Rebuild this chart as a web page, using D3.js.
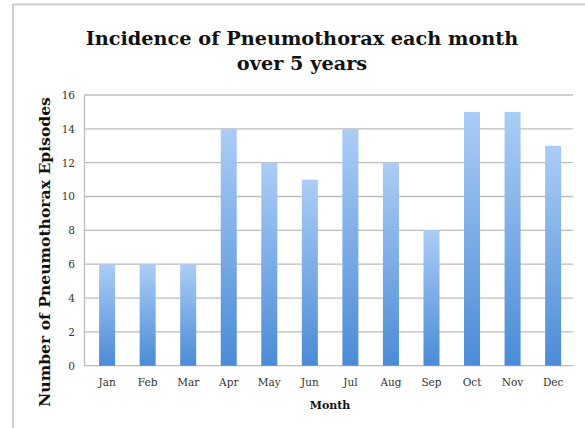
<!DOCTYPE html>
<html><head><meta charset="utf-8">
<script src="https://cdn.jsdelivr.net/npm/d3@7"></script>
<style>body{margin:0;background:#fff}svg{display:block}</style>
</head><body>
<script>
const months = ["Jan","Feb","Mar","Apr","May","Jun","Jul","Aug","Sep","Oct","Nov","Dec"];
const episodes = [6,6,6,14,12,11,14,12,8,15,15,13];
const yTicks = [0,2,4,6,8,10,12,14,16];
const titleLines = ["Incidence of Pneumothorax each month","over 5 years"];
const xTitle = "Month";
const yTitle = "Number of Pneumothorax Episodes";

const W = 585, H = 428;
const m = {left: 84, right: 12, top: 95, bottom: 62.3};
const svg = d3.select("body").append("svg").attr("width", W).attr("height", H);
const font = "'DejaVu Serif', 'Liberation Serif', serif";

// frame
svg.append("rect").attr("x", 13).attr("y", 4.5).attr("width", 600).attr("height", 500)
  .attr("fill", "#fff").attr("stroke", "#cfcfcf").attr("stroke-width", 2);

const x = d3.scaleBand().domain(months).range([m.left, W - m.right])
  .paddingInner(0.605).paddingOuter(0.3325).align(0.56);
const y = d3.scaleLinear().domain([0, 16]).range([H - m.bottom, m.top]);

const defs = svg.append("defs");
const g = defs.append("linearGradient").attr("id", "bg").attr("x1", 0).attr("y1", 0).attr("x2", 0).attr("y2", 1);
g.append("stop").attr("offset", "0%").attr("stop-color", "#abcdf6");
g.append("stop").attr("offset", "100%").attr("stop-color", "#4b8bd6");

// gridlines
svg.append("g").selectAll("line").data(yTicks).join("line")
  .attr("x1", m.left).attr("x2", W - m.right)
  .attr("y1", d => y(d)).attr("y2", d => y(d))
  .attr("stroke", "#bdbdbd").attr("stroke-width", 1.3);

// bars
svg.append("g").selectAll("rect").data(months).join("rect")
  .attr("x", d => x(d)).attr("width", x.bandwidth())
  .attr("y", (d, i) => y(episodes[i])).attr("height", (d, i) => y(0) - y(episodes[i]))
  .attr("fill", "url(#bg)");

// axes
const yAxis = svg.append("g").attr("transform", `translate(${m.left},0)`)
  .call(d3.axisLeft(y).tickValues(yTicks).tickSize(0).tickPadding(9));
yAxis.select(".domain").attr("stroke", "#bdbdbd").attr("stroke-width", 1.3);
yAxis.selectAll("text").attr("font-family", font).attr("font-size", 10.5).attr("fill", "#333");

const xAxis = svg.append("g").attr("transform", `translate(0,${y(0)})`)
  .call(d3.axisBottom(x).tickSize(0).tickPadding(13));
xAxis.select(".domain").remove();
xAxis.selectAll("text").attr("font-family", font).attr("font-size", 10.5).attr("fill", "#333");

// titles
svg.append("text").attr("font-family", font).attr("font-weight", "bold")
  .attr("font-size", 19.3).attr("text-anchor", "middle").attr("fill", "#111")
  .selectAll("tspan").data(titleLines).join("tspan")
  .attr("x", 302).attr("y", (d, i) => 45 + i * 25).text(d => d);

svg.append("text").attr("x", 330).attr("y", 409).attr("text-anchor", "middle")
  .attr("font-family", font).attr("font-weight", "bold").attr("font-size", 11).attr("fill", "#111").text(xTitle);

svg.append("text").attr("transform", `translate(50,252) rotate(-90)`)
  .attr("text-anchor", "middle").attr("font-family", font).attr("font-weight", "bold")
  .attr("font-size", 15.6).attr("fill", "#111").text(yTitle);
</script>
</body></html>
